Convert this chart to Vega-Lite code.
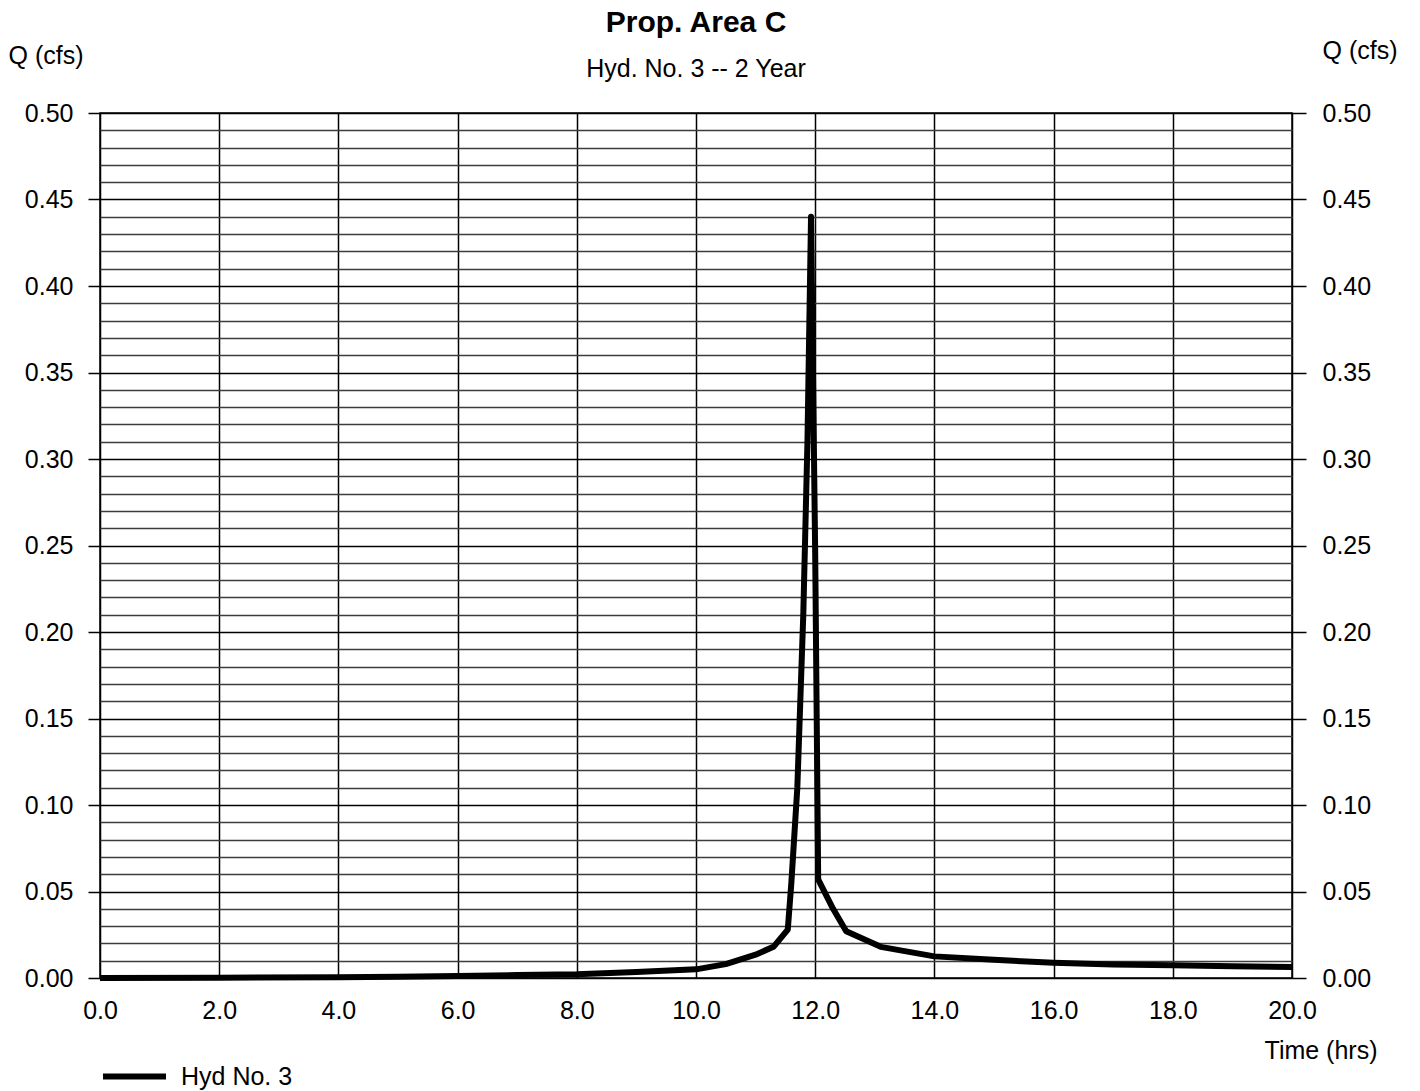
{
  "$schema": "https://vega.github.io/schema/vega-lite/v6.json",
  "width": 1192,
  "height": 865,
  "autosize": {"type": "none"},
  "padding": {"left": 100, "top": 113, "right": 128, "bottom": 113},
  "background": "white",
  "config": {
    "font": "Liberation Sans",
    "view": {"stroke": "black", "strokeWidth": 1.5},
    "axis": {"labelColor": "black", "titleColor": "black", "labelFont": "Liberation Sans", "titleFont": "Liberation Sans"},
    "legend": {"labelColor": "black", "labelFont": "Liberation Sans"}
  },
  "title": {
    "text": "Prop. Area C",
    "subtitle": "Hyd. No. 3 -- 2 Year",
    "font": "Liberation Sans",
    "subtitleFont": "Liberation Sans",
    "fontSize": 30,
    "fontWeight": "bold",
    "color": "black",
    "subtitleFontSize": 25,
    "subtitleColor": "black",
    "subtitlePadding": 19,
    "anchor": "middle",
    "offset": -44
  },
  "data": {
    "values": [
      {"t": 0, "q": 0},
      {"t": 2, "q": 0.0002},
      {"t": 4, "q": 0.0005},
      {"t": 5, "q": 0.0007},
      {"t": 6, "q": 0.0012},
      {"t": 7, "q": 0.0017},
      {"t": 8, "q": 0.0022},
      {"t": 9, "q": 0.0035},
      {"t": 10, "q": 0.005},
      {"t": 10.5, "q": 0.008},
      {"t": 11, "q": 0.0135},
      {"t": 11.3, "q": 0.018},
      {"t": 11.54, "q": 0.028},
      {"t": 11.6, "q": 0.055},
      {"t": 11.7, "q": 0.11},
      {"t": 11.8, "q": 0.21},
      {"t": 11.87, "q": 0.31},
      {"t": 11.93, "q": 0.44},
      {"t": 12.0, "q": 0.245},
      {"t": 12.05, "q": 0.057},
      {"t": 12.3, "q": 0.04},
      {"t": 12.52, "q": 0.027},
      {"t": 13.1, "q": 0.018},
      {"t": 14.0, "q": 0.0125},
      {"t": 15.0, "q": 0.0105},
      {"t": 16.0, "q": 0.0088},
      {"t": 17.0, "q": 0.0078},
      {"t": 18.0, "q": 0.0074},
      {"t": 19.0, "q": 0.0068},
      {"t": 20.0, "q": 0.0064}
    ]
  },
  "layer": [
    {
      "mark": {"type": "line", "color": "black", "strokeWidth": 6, "strokeJoin": "round"},
      "encoding": {
        "x": {
          "field": "t",
          "type": "quantitative",
          "scale": {"domain": [0, 20], "nice": false, "zero": false},
          "axis": {
            "values": [0, 2, 4, 6, 8, 10, 12, 14, 16, 18, 20],
            "format": ".1f",
            "grid": true,
            "gridColor": "black",
            "gridWidth": 1.5,
            "ticks": false,
            "domain": false,
            "labelFontSize": 25,
            "labelPadding": 20,
            "labelFlush": false,
            "labelOverlap": false,
            "title": "Time (hrs)",
            "titleFontSize": 25,
            "titleFontWeight": "normal",
            "titleX": 1277,
            "titleY": 72,
            "titleAlign": "right",
            "titleBaseline": "middle",
            "titleAnchor": null
          }
        },
        "y": {
          "field": "q",
          "type": "quantitative",
          "scale": {"domain": [0, 0.5], "nice": false},
          "axis": {
            "orient": "left",
            "values": [0, 0.01, 0.02, 0.03, 0.04, 0.05, 0.06, 0.07, 0.08, 0.09, 0.1, 0.11, 0.12, 0.13, 0.14, 0.15, 0.16, 0.17, 0.18, 0.19, 0.2, 0.21, 0.22, 0.23, 0.24, 0.25, 0.26, 0.27, 0.28, 0.29, 0.3, 0.31, 0.32, 0.33, 0.34, 0.35, 0.36, 0.37, 0.38, 0.39, 0.4, 0.41, 0.42, 0.43, 0.44, 0.45, 0.46, 0.47, 0.48, 0.49, 0.5],
            "labelExpr": "round(datum.value*100) % 5 == 0 ? format(datum.value, '.2f') : ''",
            "grid": true,
            "gridColor": {"condition": {"test": "round(datum.value*100) % 5 == 0", "value": "black"}, "value": "#3c3c3c"},
            "gridWidth": {"condition": {"test": "round(datum.value*100) % 5 == 0", "value": 1.6}, "value": 1.3},
            "tickColor": "black",
            "tickWidth": 1.5,
            "tickSize": 12,
            "tickOpacity": {"condition": {"test": "round(datum.value*100) % 5 == 0", "value": 1}, "value": 0},
            "domain": false,
            "labelFontSize": 25,
            "labelPadding": 15,
            "labelFlush": false,
            "labelOverlap": false,
            "title": "Q (cfs)",
            "titleFontSize": 25,
            "titleFontWeight": "normal",
            "titleAngle": 0,
            "titleX": -92,
            "titleY": -58,
            "titleAlign": "left",
            "titleBaseline": "middle",
            "titleAnchor": null
          }
        },
        "color": {
          "datum": "Hyd No. 3",
          "scale": {"range": ["black"]},
          "legend": {
            "orient": "none",
            "legendX": 0,
            "legendY": 929,
            "title": null,
            "symbolType": "stroke",
            "symbolStrokeWidth": 6,
            "symbolSize": 3969,
            "symbolStrokeColor": "black",
            "labelFontSize": 25,
            "labelOffset": 12,
            "padding": 0
          }
        }
      }
    },
    {
      "mark": {"type": "line", "opacity": 0},
      "encoding": {
        "x": {"field": "t", "type": "quantitative"},
        "y": {
          "field": "q",
          "type": "quantitative",
          "axis": {
            "orient": "right",
            "values": [0, 0.05, 0.1, 0.15, 0.2, 0.25, 0.3, 0.35, 0.4, 0.45, 0.5],
            "format": ".2f",
            "grid": false,
            "domain": false,
            "tickColor": "black",
            "tickWidth": 1.5,
            "tickSize": 14,
            "labelFontSize": 25,
            "labelPadding": 16,
            "labelFlush": false,
            "labelOverlap": false,
            "title": "Q (cfs)",
            "titleFontSize": 25,
            "titleFontWeight": "normal",
            "titleAngle": 0,
            "titleX": 30,
            "titleY": -63,
            "titleAlign": "left",
            "titleBaseline": "middle",
            "titleAnchor": null
          }
        }
      }
    }
  ],
  "resolve": {"axis": {"y": "independent"}}
}
